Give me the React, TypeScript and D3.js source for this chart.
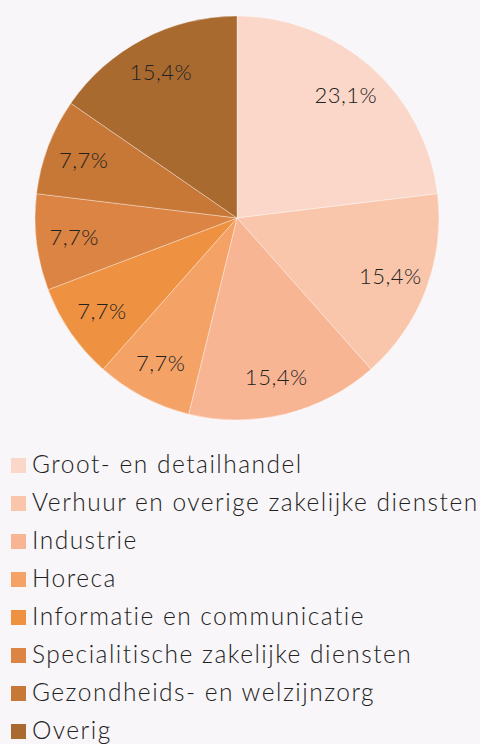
import { useEffect, useRef } from 'react'
import * as d3 from 'd3'

// sectors (share in the sample of 13)
const sectors = [
  'Groot- en detailhandel',
  'Verhuur en overige zakelijke diensten',
  'Industrie',
  'Horeca',
  'Informatie en communicatie',
  'Specialitische zakelijke diensten',
  'Gezondheids- en welzijnzorg',
  'Overig',
]
const counts = [3, 2, 2, 1, 1, 1, 1, 2]
const labels = ['23,1%', '15,4%', '15,4%', '7,7%', '7,7%', '7,7%', '7,7%', '15,4%']
const colors = ['#fad7c8', '#f9c6ab', '#f8b594', '#f5a267', '#ee9242', '#db8443', '#c77736', '#a96a30']

export default function App() {
  const svgRef = useRef<SVGSVGElement>(null)

  useEffect(() => {
    if (!svgRef.current) return
    const svg = d3.select(svgRef.current)
    svg.selectAll('*').remove()

    const width = 480
    const height = 744
    const cx = 237
    const cy = 218
    const radius = 202
    const font = 'Lato, "Open Sans", sans-serif'

    svg.attr('width', width).attr('height', height)

    svg.append('rect')
      .attr('width', width)
      .attr('height', height)
      .attr('fill', '#f8f6f8')

    const data = sectors.map((name, i) => ({ name, value: counts[i], label: labels[i], color: colors[i] }))

    const pie = d3.pie<any>().sort(null).value(d => d.value)
    const arc = d3.arc<any>().innerRadius(0).outerRadius(radius)
    const labelArc = d3.arc<any>().innerRadius(164).outerRadius(164)

    const g = svg.append('g').attr('transform', `translate(${cx},${cy})`)
    const arcs = pie(data)

    g.selectAll('.slice')
      .data(arcs)
      .enter()
      .append('path')
      .attr('class', 'slice')
      .attr('d', arc)
      .attr('fill', d => d.data.color)
      .attr('stroke', 'rgba(255,255,255,0.35)')
      .attr('stroke-width', 1)

    g.selectAll('.slice-label')
      .data(arcs)
      .enter()
      .append('text')
      .attr('class', 'slice-label')
      .attr('transform', d => `translate(${labelArc.centroid(d)})`)
      .attr('text-anchor', 'middle')
      .attr('dy', '0.35em')
      .style('font-family', font)
      .style('font-weight', 300)
      .style('font-size', '22px')
      .style('letter-spacing', '0.5px')
      .style('fill', '#222')
      .text(d => d.data.label)

    // legend
    const legend = svg.append('g').attr('transform', 'translate(11, 458)')
    data.forEach((d, i) => {
      const row = legend.append('g').attr('transform', `translate(0, ${i * 38})`)
      row.append('rect')
        .attr('width', 15)
        .attr('height', 15)
        .attr('fill', d.color)
      row.append('text')
        .attr('x', 21)
        .attr('y', 15)
        .style('font-family', font)
        .style('font-weight', 300)
        .style('font-size', '24.5px')
        .style('letter-spacing', '1.5px')
        .style('fill', '#222')
        .text(d.name)
    })
  }, [])

  return (
    <div style={{ position: 'absolute', left: 0, top: 0 }}>
      <svg ref={svgRef} style={{ display: 'block' }}></svg>
    </div>
  )
}
